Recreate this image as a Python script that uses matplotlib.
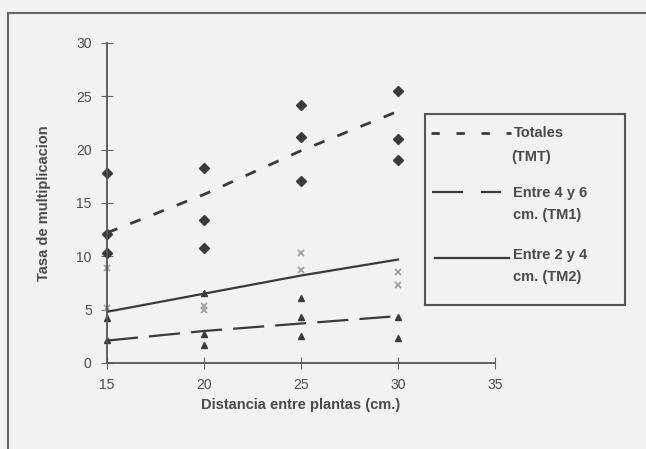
import matplotlib.pyplot as plt
from matplotlib.lines import Line2D

# distances (cm) and replicate values
dist = [15, 20, 25, 30]
tmt_vals = [[17.8, 12.1, 10.3], [18.3, 13.4, 10.8], [24.2, 21.2, 17.1], [25.5, 21.0, 19.0]]
tm2_vals = [[8.9, 5.2], [5.3, 5.0], [10.3, 8.7], [8.5, 7.3]]
tm1_vals = [[4.2, 2.2], [6.6, 2.7, 1.7], [6.1, 4.3, 2.5], [4.3, 2.3]]

# trend lines as drawn in the original
trend_tmt = [12.2, 15.8, 19.9, 23.6]
trend_tm2 = [4.8, 6.5, 8.2, 9.7]
trend_tm1 = [2.1, 3.0, 3.7, 4.4]

bg = "#f2f2f2"
ink = "#3a3a3a"
txt = "#4a4a4a"
plt.rcParams['font.family'] = ['Liberation Sans', 'DejaVu Sans']

W, H = 646, 449
fig = plt.figure(figsize=(W / 100, H / 100), dpi=100, facecolor=bg)

# outer frame
fig.add_artist(Line2D([8 / W, 1.0], [1 - 13 / H, 1 - 13 / H], color="#666666", lw=1.5))
fig.add_artist(Line2D([8 / W, 8 / W], [0, 1 - 13 / H], color="#666666", lw=1.5))

ax = fig.add_axes([107 / W, 86 / H, 388 / W, 320 / H], facecolor=bg)
ax.set_xlim(15, 35)
ax.set_ylim(0, 30)

def flat(vals):
    xs, ys = [], []
    for d, v in zip(dist, vals):
        xs += [d] * len(v)
        ys += v
    return xs, ys

x, y = flat(tmt_vals)
ax.plot(x, y, "D", color=ink, ms=5, clip_on=False)
x, y = flat(tm2_vals)
ax.plot(x, y, "x", color="#a0a0a0", ms=5, mew=1.3, clip_on=False)
x, y = flat(tm1_vals)
ax.plot(x, y, "^", color=ink, ms=5, clip_on=False)

ax.plot(dist, trend_tmt, color=ink, lw=2, dashes=(4, 5))
ax.plot(dist, trend_tm2, color=ink, lw=1.6)
ax.plot(dist, trend_tm1, color=ink, lw=1.6, dashes=(14, 5))

for s in ["top", "right"]:
    ax.spines[s].set_visible(False)
for s in ["left", "bottom"]:
    ax.spines[s].set_color("#555555")
    ax.spines[s].set_linewidth(1.3)

ax.set_xticks([15, 20, 25, 30, 35])
ax.set_yticks([0, 5, 10, 15, 20, 25, 30])
ax.tick_params(direction="inout", length=8, color="#666666", labelcolor=txt, labelsize=10, pad=7)
ax.set_xlabel("Distancia entre plantas (cm.)", color=txt, fontsize=10.5, labelpad=4, fontweight="bold")
ax.set_ylabel("Tasa de multiplicacion", color=txt, fontsize=10.5, labelpad=18, fontweight="bold")

# legend box drawn by hand in pixel units
lx, ly, lw, lh = 425, 114, 200, 191
lax = fig.add_axes([lx / W, 1 - (ly + lh) / H, lw / W, lh / H], facecolor=bg)
lax.set_xlim(0, lw)
lax.set_ylim(lh, 0)
lax.set_xticks([])
lax.set_yticks([])
for s in lax.spines.values():
    s.set_color("#555555")
    s.set_linewidth(1.5)

lax.plot([6, 86], [19, 19], color=ink, lw=2, dashes=(3, 6))
lax.plot([7, 76], [78, 78], color=ink, lw=1.6, dashes=(14, 8))
lax.plot([10, 84], [144, 144], color=ink, lw=1.6)

kw = dict(color=txt, fontsize=10.5, va="center", ha="left", fontweight="bold")
lax.text(89, 19, "Totales", **kw)
lax.text(86, 43, "(TMT)", **kw)
lax.text(88, 79, "Entre 4 y 6", **kw)
lax.text(88, 101, "cm. (TM1)", **kw)
lax.text(88, 141, "Entre 2 y 4", **kw)
lax.text(88, 163, "cm. (TM2)", **kw)

plt.savefig("out.png", dpi=100, facecolor=bg)
